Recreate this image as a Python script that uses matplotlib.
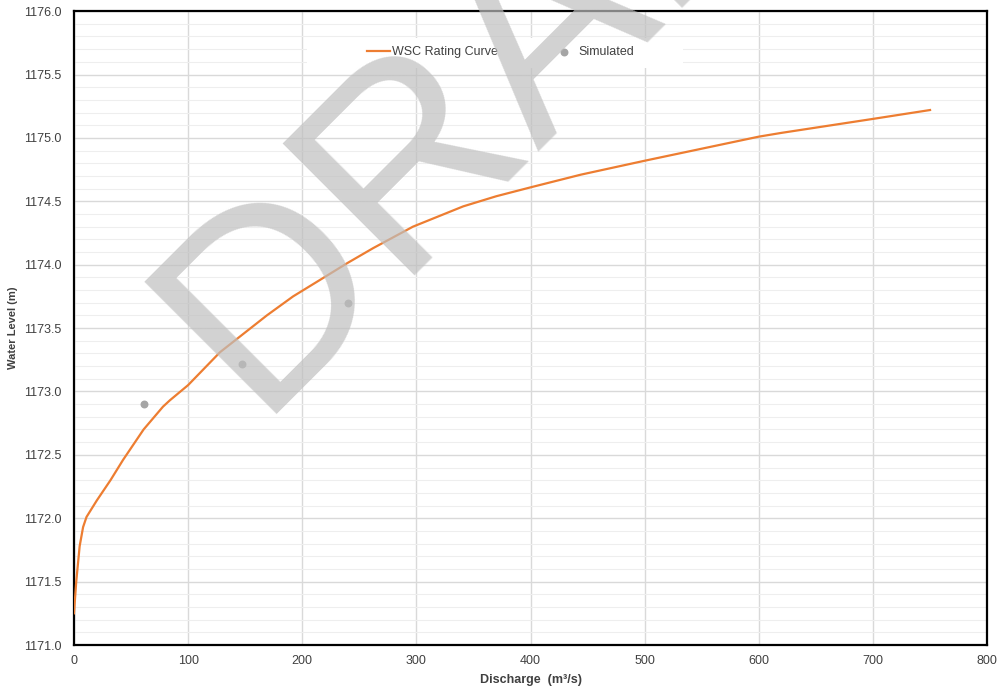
import numpy as np
import matplotlib
matplotlib.use('Agg')
import matplotlib.pyplot as plt
from matplotlib.ticker import MultipleLocator, FormatStrFormatter
from matplotlib.patches import Rectangle

plt.rcParams['font.family'] = ['Liberation Sans', 'DejaVu Sans']

# WSC rating curve
wsc_q = [0, 2, 5, 8, 11, 20, 32, 43, 61, 78, 84, 100, 128, 169, 192, 221, 239, 262,
         297, 341, 370, 400, 444, 500, 600, 620, 700, 750]
wsc_h = [1171.25, 1171.5, 1171.78, 1171.93, 1172.01, 1172.14, 1172.30, 1172.46, 1172.70,
         1172.88, 1172.93, 1173.05, 1173.31, 1173.6, 1173.75, 1173.91, 1174.01, 1174.13,
         1174.30, 1174.46, 1174.54, 1174.61, 1174.71, 1174.82, 1175.01, 1175.04, 1175.15, 1175.22]

# simulated points
sim_q = [61, 147, 240]
sim_h = [1172.9, 1173.22, 1173.70]

fig = plt.figure(figsize=(9.98, 6.92), dpi=100)
ax = fig.add_axes([0.0741, 0.0679, 0.915, 0.916])

ax.plot(wsc_q, wsc_h, color='#ed7d31', lw=1.6, label='WSC Rating Curve', zorder=3)
ax.scatter(sim_q, sim_h, s=22, color='#a5a5a5', label='Simulated', zorder=4)

ax.set_xlim(0, 800)
ax.set_ylim(1171, 1176)
ax.xaxis.set_major_locator(MultipleLocator(100))
ax.yaxis.set_major_locator(MultipleLocator(0.5))
ax.yaxis.set_minor_locator(MultipleLocator(0.1))
ax.yaxis.set_major_formatter(FormatStrFormatter('%.1f'))
ax.grid(which='major', color='#d9d9d9', lw=1.0)
ax.grid(which='minor', axis='y', color='#eeeeee', lw=0.8)
ax.set_axisbelow(True)
ax.tick_params(which='both', length=0, labelsize=9, colors='#404040')
ax.tick_params(axis='y', pad=9)
ax.tick_params(axis='x', pad=7)
for sp in ax.spines.values():
    sp.set_linewidth(1.6)
    sp.set_color('black')

ax.set_xlabel('Discharge  (m³/s)', fontsize=9, fontweight='bold', color='#404040', labelpad=5)
ax.set_ylabel('Water Level (m)', fontsize=8, fontweight='bold', color='#404040', labelpad=4)

# white box behind the legend (covers the grid)
ax.add_patch(Rectangle((0.255, 0.910), 0.412, 0.047, transform=ax.transAxes,
                       facecolor='white', edgecolor='none', zorder=1.5))
leg = ax.legend(loc='center', bbox_to_anchor=(0.467, 0.935), ncol=2, frameon=False,
                fontsize=9, columnspacing=4.4, handlelength=1.8, handletextpad=0.2)
leg.set_zorder(5)
for t in leg.get_texts():
    t.set_color('#404040')

# watermark
fig.text(0.2555, 0.4017, 'DRAFT', fontsize=196, color='#bfbfbf', alpha=0.7,
         rotation=45, rotation_mode='anchor', ha='left', va='baseline', zorder=10)

fig.savefig('out.png', dpi=100)
